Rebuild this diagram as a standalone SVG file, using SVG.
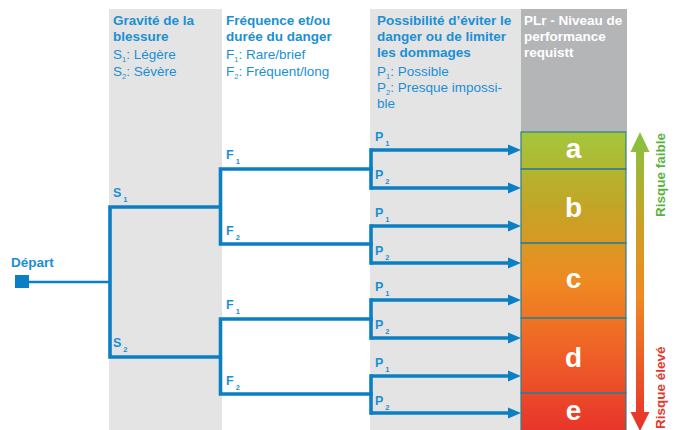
<svg xmlns="http://www.w3.org/2000/svg" width="674" height="430" viewBox="0 0 674 430">
  <defs>
    <style>
      .hd { font-family: "Liberation Sans", Arial, sans-serif; font-size: 13.5px; font-weight: bold; fill: #1b8fd6; }
      .hr { font-family: "Liberation Sans", Arial, sans-serif; font-size: 13.5px; fill: #1b8fd6; }
      .hw { font-family: "Liberation Sans", Arial, sans-serif; font-size: 13.5px; font-weight: bold; fill: #ffffff; }
      .br { font-family: "Liberation Sans", Arial, sans-serif; font-size: 12.5px; font-weight: bold; fill: #1b8fd6; }
      .sub { font-size: 7.5px; }
      .lvl { font-family: "Liberation Sans", Arial, sans-serif; font-size: 28px; font-weight: bold; fill: #ffffff; text-anchor: middle; }
      .wire { fill: none; stroke: #0b7fc3; stroke-width: 3.6; stroke-linejoin: miter; stroke-linecap: square; }
      .arr { fill: none; stroke: #0b7fc3; stroke-width: 3.6; marker-end: url(#head); }
      .box { fill: none; stroke: #2f7f8f; stroke-width: 1.2; }
      .risk { font-family: "Liberation Sans", Arial, sans-serif; font-size: 13.5px; font-weight: bold; }
    </style>
    <marker id="head" markerUnits="userSpaceOnUse" markerWidth="14" markerHeight="12" refX="0" refY="6" orient="auto" viewBox="0 0 14 12">
      <path d="M0,0.5 L13,6 L0,11.5 z" fill="#0b7fc3"/>
    </marker>
    <linearGradient id="levelGrad" x1="0" y1="132" x2="0" y2="430" gradientUnits="userSpaceOnUse">
      <stop offset="0" stop-color="#a2c73c"/>
      <stop offset="0.25" stop-color="#c3a526"/>
      <stop offset="0.5" stop-color="#ef8a22"/>
      <stop offset="0.75" stop-color="#ef5f27"/>
      <stop offset="1" stop-color="#e8352b"/>
    </linearGradient>
    <linearGradient id="scaleGrad" x1="0" y1="132" x2="0" y2="430" gradientUnits="userSpaceOnUse">
      <stop offset="0" stop-color="#84c341"/>
      <stop offset="0.3" stop-color="#c9a224"/>
      <stop offset="0.55" stop-color="#ef8a22"/>
      <stop offset="1" stop-color="#e8302b"/>
    </linearGradient>
  </defs>

  <rect width="674" height="430" fill="#ffffff"/>

  <!-- column backgrounds -->
  <rect x="109" y="9" width="113" height="421" fill="#e4e4e4"/>
  <rect x="370" y="9" width="151" height="421" fill="#e4e4e4"/>
  <rect x="521" y="9" width="106" height="123" fill="#b4b5b7"/>

  <!-- column headers -->
  <g id="col-gravite">
    <text class="hd" x="113" y="25">Gravité de la</text>
    <text class="hd" x="113" y="41">blessure</text>
    <text class="hr" x="113" y="59">S<tspan class="sub" dy="3">1</tspan><tspan dy="-3">: Légère</tspan></text>
    <text class="hr" x="113" y="76">S<tspan class="sub" dy="3">2</tspan><tspan dy="-3">: Sévère</tspan></text>
  </g>
  <g id="col-frequence">
    <text class="hd" x="226" y="25">Fréquence et/ou</text>
    <text class="hd" x="226" y="41">durée du danger</text>
    <text class="hr" x="226" y="59">F<tspan class="sub" dy="3">1</tspan><tspan dy="-3">: Rare/brief</tspan></text>
    <text class="hr" x="226" y="76">F<tspan class="sub" dy="3">2</tspan><tspan dy="-3">: Fréquent/long</tspan></text>
  </g>
  <g id="col-possibilite">
    <text class="hd" x="377" y="25">Possibilité d’éviter le</text>
    <text class="hd" x="377" y="41">danger ou de limiter</text>
    <text class="hd" x="377" y="57">les dommages</text>
    <text class="hr" x="377" y="76">P<tspan class="sub" dy="3">1</tspan><tspan dy="-3">: Possible</tspan></text>
    <text class="hr" x="377" y="92">P<tspan class="sub" dy="3">2</tspan><tspan dy="-3">: Presque impossi-</tspan></text>
    <text class="hr" x="377" y="108">ble</text>
  </g>
  <g id="col-plr">
    <text class="hw" x="524" y="25">PLr - Niveau de</text>
    <text class="hw" x="524" y="41">performance</text>
    <text class="hw" x="524" y="57">requistt</text>
  </g>

  <!-- start node -->
  <g id="depart">
    <text class="hd" x="11" y="267">Départ</text>
    <rect x="15" y="275" width="14" height="13" fill="#0b7fc3"/>
  </g>

  <!-- performance levels -->
  <g id="levels">
    <rect x="521" y="132" width="105" height="298" fill="url(#levelGrad)"/>
    <g id="level-a"><rect class="box" x="521" y="132" width="105" height="37"/><text class="lvl" x="573.5" y="158">a</text></g>
    <g id="level-b"><rect class="box" x="521" y="169" width="105" height="74"/><text class="lvl" x="573.5" y="217">b</text></g>
    <g id="level-c"><rect class="box" x="521" y="243" width="105" height="75"/><text class="lvl" x="573.5" y="288">c</text></g>
    <g id="level-d"><rect class="box" x="521" y="318" width="105" height="75"/><text class="lvl" x="573.5" y="367">d</text></g>
    <g id="level-e"><rect class="box" x="521" y="393" width="105" height="40"/><text class="lvl" x="573.5" y="420">e</text></g>
  </g>

  <!-- risk scale -->
  <g id="risk-scale">
    <path d="M640,132 L649.5,152 L644,152 L644,412 L649.5,412 L640,431 L630.5,412 L636,412 L636,152 L630.5,152 z" fill="url(#scaleGrad)"/>
    <text class="risk" fill="#5bb33c" transform="translate(665,217) rotate(-90)">Risque faible</text>
    <text class="risk" fill="#e8352b" transform="translate(665,429) rotate(-90)">Risque élevé</text>
  </g>

  <!-- decision tree connectors -->
  <g id="connectors">
    <path d="M29,282 L110,282" fill="none" stroke="#0b7fc3" stroke-width="2.6"/>
    <path class="wire" d="M220,207 L110,207 L110,357 L220,357"/>
    <path class="wire" d="M371,169 L220.5,169 L220.5,244 L371,244"/>
    <path class="wire" d="M371,319 L220.5,319 L220.5,394 L371,394"/>
    <path class="wire" d="M371,150 L371,188"/>
    <path class="wire" d="M371,226 L371,263"/>
    <path class="wire" d="M371,300 L371,338"/>
    <path class="wire" d="M371,376 L371,413"/>
    <path class="arr" d="M371,150 L508,150"/>
    <path class="arr" d="M371,188 L508,188"/>
    <path class="arr" d="M371,226 L508,226"/>
    <path class="arr" d="M371,263 L508,263"/>
    <path class="arr" d="M371,300 L508,300"/>
    <path class="arr" d="M371,338 L508,338"/>
    <path class="arr" d="M371,376 L508,376"/>
    <path class="arr" d="M371,413 L508,413"/>

    <!-- branch labels -->
    <text class="br" x="113" y="197">S<tspan class="sub" dx="2" dy="5">1</tspan></text>
    <text class="br" x="113" y="347">S<tspan class="sub" dx="2" dy="5">2</tspan></text>
    <text class="br" x="226" y="159">F<tspan class="sub" dx="2" dy="5">1</tspan></text>
    <text class="br" x="226" y="235">F<tspan class="sub" dx="2" dy="5">2</tspan></text>
    <text class="br" x="226" y="309">F<tspan class="sub" dx="2" dy="5">1</tspan></text>
    <text class="br" x="226" y="385">F<tspan class="sub" dx="2" dy="5">2</tspan></text>
    <text class="br" x="375" y="141">P<tspan class="sub" dx="2" dy="5">1</tspan></text>
    <text class="br" x="375" y="179">P<tspan class="sub" dx="2" dy="5">2</tspan></text>
    <text class="br" x="375" y="217">P<tspan class="sub" dx="2" dy="5">1</tspan></text>
    <text class="br" x="375" y="255">P<tspan class="sub" dx="2" dy="5">2</tspan></text>
    <text class="br" x="375" y="291">P<tspan class="sub" dx="2" dy="5">1</tspan></text>
    <text class="br" x="375" y="329">P<tspan class="sub" dx="2" dy="5">2</tspan></text>
    <text class="br" x="375" y="367">P<tspan class="sub" dx="2" dy="5">1</tspan></text>
    <text class="br" x="375" y="405">P<tspan class="sub" dx="2" dy="5">2</tspan></text>
  </g>
</svg>
